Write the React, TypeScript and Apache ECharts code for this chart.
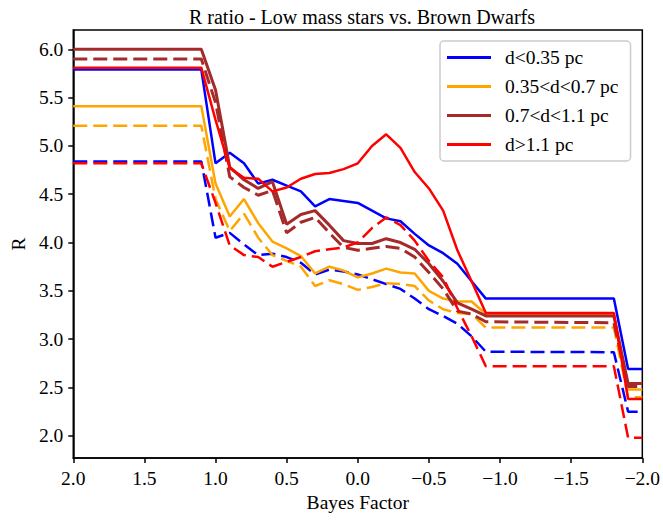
import React, { useEffect, useRef } from "react";
import * as echarts from "echarts";

const TITLE = "R ratio - Low mass stars vs. Brown Dwarfs";
const X_LABEL = "Bayes Factor";
const Y_LABEL = "R";

// Bayes factor knots (x axis is reversed)
const bayes = [2.0, 1.1, 1.0, 0.9, 0.8, 0.7, 0.6, 0.5, 0.4, 0.3, 0.2, 0.1, 0.0, -0.1, -0.2, -0.3, -0.4, -0.5, -0.6, -0.7, -0.8, -0.9, -1.8, -1.9, -2.0];

const names = ["d<0.35 pc", "0.35<d<0.7 pc", "0.7<d<1.1 pc", "d>1.1 pc"];
const colors = ["#0000ff", "#ffa500", "#a52a2a", "#ff0000"];

const blueSolid = [5.79, 5.79, 4.82, 4.93, 4.82, 4.61, 4.65, 4.59, 4.53, 4.375, 4.45, 4.43, 4.41, 4.33, 4.25, 4.22, 4.09, 3.97, 3.89, 3.78, 3.6, 3.42, 3.42, 2.69, 2.69];
const blueDashed = [4.84, 4.84, 4.05, 4.1, 3.98, 3.87, 3.885, 3.85, 3.79, 3.67, 3.72, 3.7, 3.67, 3.62, 3.57, 3.52, 3.42, 3.31, 3.24, 3.16, 3.03, 2.87, 2.865, 2.25, 2.25];
const orangeSolid = [5.41, 5.41, 4.61, 4.27, 4.45, 4.2, 4.01, 3.94, 3.86, 3.68, 3.75, 3.71, 3.64, 3.68, 3.73, 3.69, 3.68, 3.5, 3.42, 3.39, 3.39, 3.26, 3.25, 2.48, 2.48];
const orangeDashed = [5.21, 5.21, 4.45, 4.12, 4.3, 4.05, 3.87, 3.81, 3.75, 3.55, 3.61, 3.57, 3.51, 3.54, 3.58, 3.57, 3.55, 3.4, 3.31, 3.27, 3.26, 3.12, 3.12, 2.4, 2.4];
const brownSolid = [6.0, 6.0, 5.58, 4.78, 4.65, 4.56, 4.63, 4.19, 4.29, 4.33, 4.18, 4.02, 3.99, 3.99, 4.04, 4.0, 3.93, 3.78, 3.6, 3.375, 3.31, 3.24, 3.24, 2.54, 2.54];
const brownDashed = [5.9, 5.9, 5.45, 4.68, 4.57, 4.49, 4.54, 4.1, 4.21, 4.26, 4.1, 3.95, 3.92, 3.94, 3.96, 3.94, 3.85, 3.69, 3.52, 3.29, 3.26, 3.18, 3.17, 2.51, 2.51];
const redSolid = [5.81, 5.81, 5.27, 4.77, 4.67, 4.66, 4.53, 4.57, 4.66, 4.71, 4.72, 4.76, 4.82, 5.0, 5.12, 4.98, 4.73, 4.56, 4.33, 3.92, 3.6, 3.27, 3.27, 2.38, 2.38];
const redDashed = [4.82, 4.82, 4.41, 3.97, 3.87, 3.85, 3.75, 3.8, 3.85, 3.91, 3.93, 3.95, 4.0, 4.15, 4.26, 4.18, 4.02, 3.81, 3.64, 3.32, 3.03, 2.72, 2.72, 1.98, 1.98];

const solids = [blueSolid, orangeSolid, brownSolid, redSolid];
const dashes = [blueDashed, orangeDashed, brownDashed, redDashed];

const yTicks = [2.0, 2.5, 3.0, 3.5, 4.0, 4.5, 5.0, 5.5, 6.0];

const FONT = "'Liberation Serif', 'Times New Roman', serif";

const fmt = (v: number) => {
  const s = Math.abs(v).toFixed(1);
  return v < -1e-9 ? "\u2212" + s : s;
};

export default function App() {
  const ref = useRef<HTMLDivElement>(null);
  useEffect(() => {
    if (!ref.current) return;
    const chart = echarts.init(ref.current, undefined, { renderer: "svg" });
    const series: any[] = [];
    for (let i = 0; i < 4; i++) {
      const w = i === 2 ? 3 : 2.5;
      series.push({
        name: names[i],
        type: "line",
        data: bayes.map((x, k) => [x, solids[i][k]]),
        showSymbol: false,
        symbol: "none",
        color: colors[i],
        lineStyle: { color: colors[i], width: w, type: "solid" },
        z: 2 + i * 2,
      });
      series.push({
        name: names[i] + " ",
        type: "line",
        data: bayes.map((x, k) => [x, dashes[i][k]]),
        showSymbol: false,
        symbol: "none",
        color: colors[i],
        lineStyle: { color: colors[i], width: w, type: [14, 6] },
        z: 3 + i * 2,
      });
    }
    chart.setOption({
      animation: false,
      backgroundColor: "#ffffff",
      title: {
        text: TITLE,
        left: 357,
        top: 2,
        textAlign: "center",
        textStyle: { fontFamily: FONT, fontSize: 20, fontWeight: "normal", color: "#000" },
      },
      legend: {
        data: names,
        orient: "vertical",
        left: 440,
        top: 41,
        padding: [6, 12, 6, 7],
        itemGap: 8,
        itemWidth: 44,
        itemHeight: 3,
        icon: "rect",
        borderColor: "#cccccc",
        borderWidth: 1.5,
        borderRadius: 4,
        backgroundColor: "rgba(255,255,255,0.8)",
        textStyle: { fontFamily: FONT, fontSize: 19.5, color: "#000", lineHeight: 21, padding: [0, 0, 0, 9] },
      },
      grid: {
        left: 70,
        right: 19,
        top: 30,
        bottom: 63,
        show: true,
        borderColor: "#000",
        borderWidth: 1.5,
        backgroundColor: "transparent",
      },
      xAxis: {
        type: "value",
        min: -2,
        max: 2,
        interval: 0.5,
        inverse: true,
        name: X_LABEL,
        nameLocation: "middle",
        nameGap: 34,
        nameTextStyle: { fontFamily: FONT, fontSize: 19.5, color: "#000" },
        axisLine: { show: true, onZero: false, lineStyle: { color: "#000", width: 1.5 } },
        axisTick: { show: true, length: 5, lineStyle: { color: "#000", width: 1.5 } },
        axisLabel: { fontFamily: FONT, fontSize: 19.5, color: "#000", margin: 10, formatter: (v: number) => fmt(v) },
        splitLine: { show: false },
      },
      yAxis: {
        type: "value",
        min: 1.77,
        max: 6.2,
        name: Y_LABEL,
        nameLocation: "middle",
        nameGap: 45,
        nameTextStyle: { fontFamily: FONT, fontSize: 19.5, color: "#000" },
        axisLine: { show: true, onZero: false, lineStyle: { color: "#000", width: 1.5 } },
        axisTick: { show: true, length: 5, customValues: yTicks, lineStyle: { color: "#000", width: 1.5 } },
        axisLabel: { fontFamily: FONT, fontSize: 19.5, color: "#000", margin: 10, customValues: yTicks, formatter: (v: number) => fmt(v) },
        splitLine: { show: false },
      },
      series,
    });
    return () => chart.dispose();
  }, []);
  return <div ref={ref} style={{ width: 663, height: 521, position: "absolute", left: 0, top: 0 }} />;
}
